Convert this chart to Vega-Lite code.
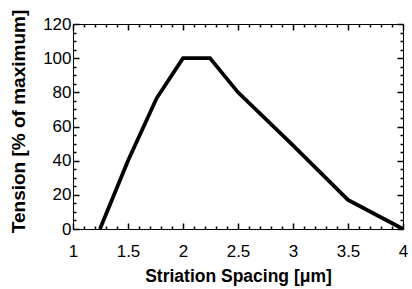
{
  "$schema": "https://vega.github.io/schema/vega-lite/v6.json",
  "width": 330,
  "height": 205,
  "autosize": "none",
  "padding": {"left": 73, "top": 24, "right": 9, "bottom": 60},
  "background": "white",
  "config": {
    "view": {"stroke": "black", "strokeWidth": 1, "fill": "transparent"},
    "font": "Liberation Sans",
    "axis": {
      "grid": false,
      "domain": false,
      "tickColor": "black",
      "labelColor": "black",
      "titleColor": "black",
      "labelFont": "Liberation Sans",
      "titleFont": "Liberation Sans",
      "labelFontSize": 17,
      "titleFontSize": 17.5,
      "titleFontWeight": "bold",
      "labelFlush": false,
      "labelOverlap": false
    }
  },
  "data": {
    "values": [
      {"spacing": 1.245, "tension": 0},
      {"spacing": 1.5, "tension": 40},
      {"spacing": 1.76, "tension": 76.5},
      {"spacing": 2.0, "tension": 100},
      {"spacing": 2.245, "tension": 100},
      {"spacing": 2.5, "tension": 80},
      {"spacing": 3.0, "tension": 49},
      {"spacing": 3.5, "tension": 17},
      {"spacing": 4.0, "tension": 0}
    ]
  },
  "encoding": {
    "x": {"field": "spacing", "type": "quantitative", "scale": {"domain": [1, 4], "nice": false, "zero": false}},
    "y": {"field": "tension", "type": "quantitative", "scale": {"domain": [0, 120], "nice": false}}
  },
  "layer": [
    {
      "mark": {"type": "line", "color": "black", "strokeWidth": 3.8, "strokeJoin": "miter", "clip": true},
      "encoding": {
        "x": {
          "field": "spacing", "type": "quantitative",
          "axis": {
            "orient": "bottom",
            "title": "Striation Spacing [μm]",
            "titlePadding": 8,
            "values": [1, 1.5, 2, 2.5, 3, 3.5, 4],
            "format": "~g",
            "ticks": true,
            "tickWidth": 1.5,
            "offset": -6,
            "tickSize": 6,
            "labelPadding": 14
          }
        },
        "y": {
          "field": "tension", "type": "quantitative",
          "axis": {
            "orient": "left",
            "title": "Tension [% of maximum]",
            "titleFontSize": 19,
            "titlePadding": 14,
            "titleY": 97,
            "values": [0, 20, 40, 60, 80, 100, 120],
            "ticks": true,
            "tickWidth": 1.5,
            "offset": -6,
            "tickSize": 6,
            "labelPadding": 2
          }
        }
      }
    },
    {
      "mark": {"type": "line", "opacity": 0},
      "encoding": {
        "x": {
          "field": "spacing", "type": "quantitative",
          "axis": {"orient": "top", "title": null, "labels": false, "values": [1, 1.5, 2, 2.5, 3, 3.5, 4], "ticks": true, "tickWidth": 1.5, "offset": -6, "tickSize": 6}
        },
        "y": {
          "field": "tension", "type": "quantitative",
          "axis": {"orient": "right", "title": null, "labels": false, "values": [0, 20, 40, 60, 80, 100, 120], "ticks": true, "tickWidth": 1.5, "offset": -6, "tickSize": 6}
        }
      }
    },
    {
      "mark": {"type": "line", "opacity": 0},
      "encoding": {
        "x": {
          "field": "spacing", "type": "quantitative",
          "axis": {"orient": "bottom", "title": null, "labels": false, "ticks": true, "tickWidth": 1.5,
            "values": [1.1,1.2,1.3,1.4,1.6,1.7,1.8,1.9,2.1,2.2,2.3,2.4,2.6,2.7,2.8,2.9,3.1,3.2,3.3,3.4,3.6,3.7,3.8,3.9], "offset": -3, "tickSize": 3}
        },
        "y": {
          "field": "tension", "type": "quantitative",
          "axis": {"orient": "left", "title": null, "labels": false, "ticks": true, "tickWidth": 1.5,
            "values": [5,10,15,25,30,35,45,50,55,65,70,75,85,90,95,105,110,115], "offset": -3, "tickSize": 3}
        }
      }
    },
    {
      "mark": {"type": "line", "opacity": 0},
      "encoding": {
        "x": {
          "field": "spacing", "type": "quantitative",
          "axis": {"orient": "top", "title": null, "labels": false, "ticks": true, "tickWidth": 1.5,
            "values": [1.1,1.2,1.3,1.4,1.6,1.7,1.8,1.9,2.1,2.2,2.3,2.4,2.6,2.7,2.8,2.9,3.1,3.2,3.3,3.4,3.6,3.7,3.8,3.9], "offset": -3, "tickSize": 3}
        },
        "y": {
          "field": "tension", "type": "quantitative",
          "axis": {"orient": "right", "title": null, "labels": false, "ticks": true, "tickWidth": 1.5,
            "values": [5,10,15,25,30,35,45,50,55,65,70,75,85,90,95,105,110,115], "offset": -3, "tickSize": 3}
        }
      }
    }
  ],
  "resolve": {"axis": {"x": "independent", "y": "independent"}}
}
